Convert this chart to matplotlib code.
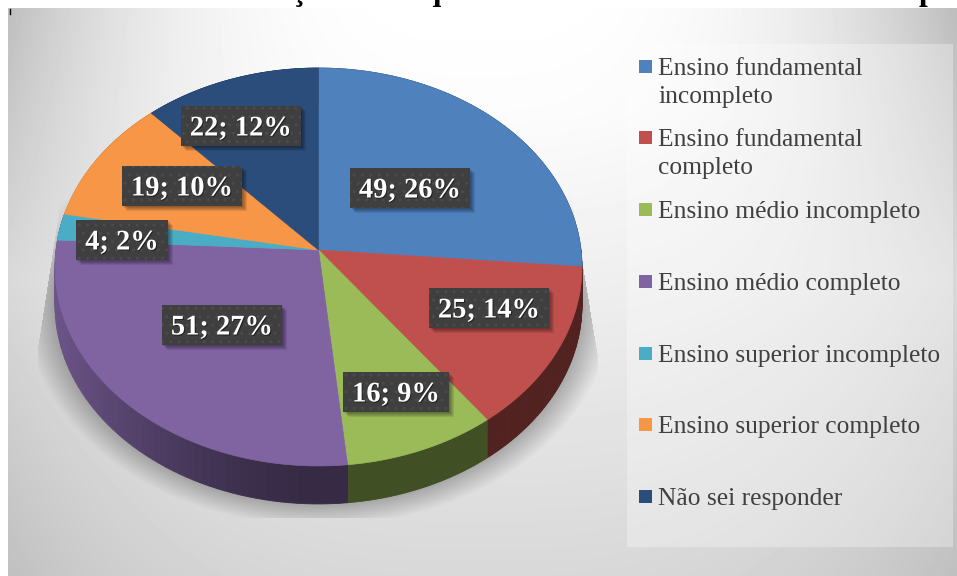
import numpy as np
import matplotlib
matplotlib.use('Agg')
import matplotlib.pyplot as plt
import matplotlib.patheffects as pe
from matplotlib.patches import Rectangle

categories = ['Ensino fundamental\nincompleto', 'Ensino fundamental\ncompleto',
              'Ensino médio incompleto', 'Ensino médio completo',
              'Ensino superior incompleto', 'Ensino superior completo',
              'Não sei responder']
values = [49, 25, 16, 51, 4, 19, 22]
percents = [26, 14, 9, 27, 2, 10, 12]
colors = ['#4f81bd', '#c0504d', '#9bbb59', '#8064a2', '#4bacc6', '#f79646', '#2a4d7c']

# where the labels sit, in pixels
label_xy = [(410, 188), (489, 308), (396, 392), (222, 325), (122, 240), (182, 186), (241, 126)]
legend_y = [67, 138, 210, 282, 354, 425, 497]

W, H = 957, 576
CX, APEX_Y, DEPTH = 318.5, 250, 38
PERSP = -0.0854
KY, RX = 197.5, 262.5
FONT = 'Liberation Serif'


def project(theta):
    # theta clockwise from the top; tilted circle, centre ends up above ellipse middle
    u, v = np.sin(theta), -np.cos(theta)
    w = 1 + PERSP * v
    return CX + RX * u / w, APEX_Y + KY * v / w


def shade(color, f):
    return tuple(c * f for c in matplotlib.colors.to_rgb(color))


fig = plt.figure(figsize=(W / 100, H / 100), dpi=100)
ax = fig.add_axes([0, 0, 1, 1])

# clipped caption above the chart
ax.text(4, -0.4, 'Gráfico 1: A distribuição da frequência do nível de escolaridade dos pais',
        fontsize=22.6, fontweight='bold', family=FONT, color='black', va='baseline', zorder=1)

# background gradient: bright top middle, dark corners
yy, xx = np.mgrid[8:H, 8:W]
s = np.abs(xx - 480) / 472.0
mid = np.interp(yy, [8, 110, 576], [255, 252, 216])
edge = np.interp(yy, [8, 280, 576], [190, 217, 192])
bg = (edge + (mid - edge) * (1 - s ** 3)) / 255.0
ax.imshow(bg, extent=(8, W, H, 8), cmap='gray', vmin=0, vmax=1, aspect='auto', zorder=2)

# soft shadow under the pie, cut off by a trapezoid
sy, sx = np.mgrid[190:518, 38:598]
r = np.hypot((sx - CX) / 296.0, (sy - 300) / 226.0)
alpha = np.clip((1 - r) / 0.14, 0, 1) * 0.36 * np.clip((sy - 190) / 90.0, 0, 1)
left = np.clip(62 - (sy - 190) * 24 / 155.0, 38, None)
right = np.clip(580 + (sy - 250) * 18 / 110.0, None, 598)
alpha[(sx < left) | (sx > right)] = 0
rgba = np.zeros(sx.shape + (4,))
rgba[..., 3] = alpha
ax.imshow(rgba, extent=(38, 598, 518, 190), aspect='auto', zorder=3)

ax.set_xlim(0, W)
ax.set_ylim(H, 0)
ax.axis('off')

# legend panel
ax.add_patch(Rectangle((627, 44), 326, 503, fc='white', ec='none', alpha=0.3, zorder=3))

# pie
angles = np.cumsum([0] + values) / sum(values) * 2 * np.pi

# side wall first, the top face hides the back of it
for i, color in enumerate(colors):
    steps = np.linspace(angles[i], angles[i + 1], 60)
    for a, b in zip(steps[:-1], steps[1:]):
        xa, ya = project(a)
        xb, yb = project(b)
        f = 0.42 + 0.42 * max(0, (CX - (xa + xb) / 2) / 263.0) ** 1.6
        ax.fill([xa, xb, xb, xa], [ya, yb, yb + DEPTH, ya + DEPTH],
                color=shade(color, f), lw=0.6, zorder=4)

for i, color in enumerate(colors):
    steps = np.linspace(angles[i], angles[i + 1], 120)
    px, py = project(steps)
    ax.fill(np.r_[CX, px], np.r_[APEX_Y, py], color=color, lw=0.5, zorder=5)

# data labels
renderer = fig.canvas.get_renderer()
for v, p, (x, y) in zip(values, percents, label_xy):
    t = ax.text(x, y + 9.5, f'{v}; {p}%', ha='center', va='baseline', fontsize=20.5,
                fontweight='bold', family=FONT, color='white', zorder=7,
                path_effects=[pe.withSimplePatchShadow(offset=(0.7, -0.7),
                                                       shadow_rgbFace='black', alpha=0.5)])
    bw = t.get_window_extent(renderer).width + 18
    for k in range(1, 6):
        ax.add_patch(Rectangle((x - bw / 2 + k, y - 20 + k), bw, 40, fc='black', ec='none',
                               alpha=0.09, zorder=6))
    ax.add_patch(Rectangle((x - bw / 2, y - 20), bw, 40, fc='#3f3f3f', ec='#4b4b4b', lw=0,
                           hatch='..', zorder=6))

# legend
for cat, color, y in zip(categories, colors, legend_y):
    ax.add_patch(Rectangle((639, y - 7), 13, 13, fc=color, ec='none', zorder=6))
    for j, line in enumerate(cat.split('\n')):
        ax.text(658, y + 8 + 28 * j, line, ha='left', va='baseline', fontsize=18.4, family=FONT,
                color='#404040', zorder=6)

# stray mark at the top left corner
ax.plot([10, 10], [9, 14], color='black', lw=1, zorder=6)

fig.savefig('out.png', dpi=100)
